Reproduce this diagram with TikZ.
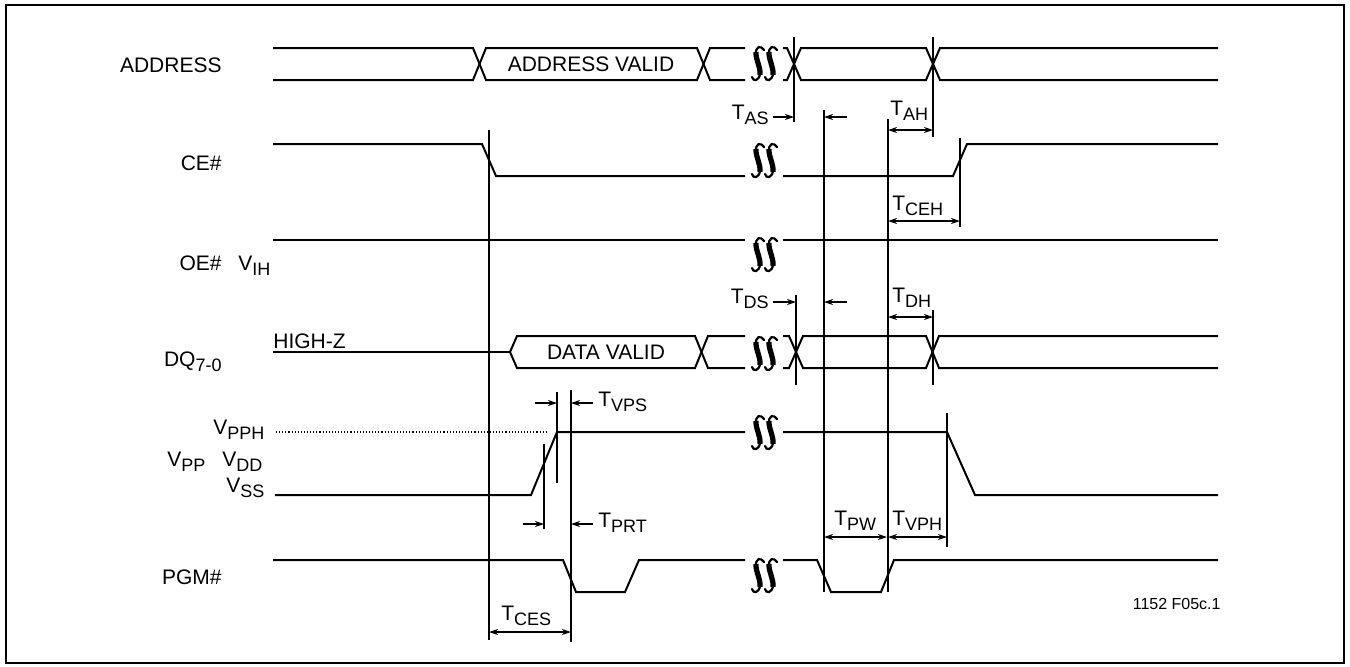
\documentclass[tikz,border=0pt]{standalone}
\usepackage{fontspec}
\setmainfont{Liberation Sans}
\usetikzlibrary{arrows.meta}
\newcommand{\Vs}[2]{#1\raisebox{-2.8pt}{\fontsize{9}{9}\selectfont #2}}
\tikzset{
  brk/.pic={
    \foreach \dx in {0,13}{
      \begin{scope}[shift={(\dx,0)}]
      \draw[line width=1.1pt, line cap=round]
        (12,4) .. controls (9,-1) and (3,0) .. (4,9)
        .. controls (5,17) and (9,21) .. (8,28)
        .. controls (7,35) and (1,36) .. (0,31);
      \draw[line width=2.6pt, line cap=butt]
        (3.9,6) .. controls (3.9,15) and (8.5,20) .. (8.1,29);
      \end{scope}
    }
  }
}
\begin{document}
\begin{tikzpicture}[x=0.5pt,y=-0.5pt,
  sig/.style={line width=1pt, line join=miter},
  thinl/.style={line width=0.55pt},
  lbl/.style={inner sep=0pt, font=\fontsize{10.5}{12}\selectfont},
  dim/.style={thinl, {Stealth[length=4.5pt,width=3pt]}-{Stealth[length=4.5pt,width=3pt]}},
  ar/.style={thinl, -{Stealth[length=4.5pt,width=3pt]}}
]
\useasboundingbox (0,0) rectangle (1350,666);
\draw[line width=1.2pt] (6,5) rectangle (1344,663);

% ---------- labels left ----------
\node[lbl, anchor=base east] (lADDR) at (222,72) {ADDRESS};
\node[lbl, anchor=base east] (lCE) at (222,170) {CE\#};
\node[lbl, anchor=base east] (lOE) at (222,270) {OE\#};
\node[lbl, anchor=base west] (lVIH) at (238,270) {\Vs{V}{IH}};
\node[lbl, anchor=base east] (lDQ) at (222,366) {\Vs{DQ}{7-0}};
\node[lbl, anchor=base west] (lHZ) at (273,348) {HIGH-Z};
\node[lbl, anchor=base west] (lVPPH) at (213,434) {\Vs{V}{PPH}};
\node[lbl, anchor=base west] (lVPP) at (167,466) {\Vs{V}{PP}};
\node[lbl, anchor=base west] (lVDD) at (222,466) {\Vs{V}{DD}};
\node[lbl, anchor=base west] (lVSS) at (226,492) {\Vs{V}{SS}};
\node[lbl, anchor=base east] (lPGM) at (222,584) {PGM\#};
\node[inner sep=0pt, anchor=base east, font=\fontsize{8}{9}\selectfont] (fig) at (1221,609) {1152 F05c.1};

% ---------- ADDRESS ----------
\draw[sig] (273,48)--(473,48)--(486,80)--(697,80)--(710,48)--(745,48);
\draw[sig] (273,80)--(473,80)--(486,48)--(697,48)--(710,80)--(745,80);
\draw[sig] (783,48)--(787,48)--(801,80)--(926,80)--(940,48)--(1218,48);
\draw[sig] (783,80)--(787,80)--(801,48)--(926,48)--(940,80)--(1218,80);
\node[lbl] (av) at (591,64) {ADDRESS VALID};
\pic at (752,46) {brk};

% ---------- CE# ----------
\draw[sig] (273,144)--(482,144)--(496,176)--(745,176);
\draw[sig] (783,176)--(953,176)--(967,144)--(1218,144);
\pic at (752,143) {brk};

% ---------- OE# ----------
\draw[sig] (273,240)--(745,240);
\draw[sig] (783,240)--(1218,240);
\pic at (752,237) {brk};

% ---------- DQ ----------
\draw[sig] (273,352)--(510,352);
\draw[sig] (510,352)--(517,336)--(695,336)--(708,368)--(745,368);
\draw[sig] (510,352)--(517,368)--(695,368)--(708,336)--(745,336);
\draw[sig] (783,336)--(789,336)--(803,368)--(926,368)--(939,336)--(1218,336);
\draw[sig] (783,368)--(789,368)--(803,336)--(926,336)--(939,368)--(1218,368);
\node[lbl] (dv) at (606,352) {DATA VALID};
\pic at (752,336) {brk};

% ---------- VPP ----------
\draw[thinl, densely dotted] (276,432)--(548,432);
\draw[sig] (275,495)--(531,495)--(557,432)--(745,432);
\draw[sig] (783,432)--(947,432)--(975,495)--(1218,495);
\pic at (752,415) {brk};

% ---------- PGM# ----------
\draw[sig] (273,560)--(563,560)--(576,592)--(625,592)--(639,560)--(745,560);
\draw[sig] (783,560)--(817,560)--(831,592)--(881,592)--(894,560)--(1218,560);
\pic at (752,558) {brk};

% ---------- reference verticals ----------
\draw[thinl] (489,130)--(489,640);
\draw[thinl] (794,37)--(794,122);
\draw[thinl] (824,110)--(824,592);
\draw[thinl] (888,119)--(888,592);
\draw[thinl] (933,37)--(933,137);
\draw[thinl] (960,138)--(960,227);
\draw[thinl] (796,295)--(796,385);
\draw[thinl] (933,310)--(933,385);
\draw[thinl] (544,444)--(544,529);
\draw[thinl] (557,392)--(557,483);
\draw[thinl] (571,390)--(571,642);
\draw[thinl] (947,413)--(947,547);

% ---------- timing arrows ----------
\draw[ar] (773,117)--(794,117);
\node[lbl, anchor=base east] (tas) at (769,119) {\Vs{T}{AS}};
\draw[ar] (847,117)--(824,117);
\draw[dim] (888,130)--(933,130);
\node[lbl, anchor=base west] (tah) at (890,115) {\Vs{T}{AH}};
\draw[dim] (888,221)--(960,221);
\node[lbl, anchor=base west] (tceh) at (892,210) {\Vs{T}{CEH}};

\draw[ar] (773,302)--(796,302);
\node[lbl, anchor=base east] (tds) at (769,303) {\Vs{T}{DS}};
\draw[ar] (847,302)--(824,302);
\draw[dim] (888,317)--(933,317);
\node[lbl, anchor=base west] (tdh) at (892,302) {\Vs{T}{DH}};

\draw[ar] (535,403)--(557,403);
\draw[ar] (593,403)--(571,403);
\node[lbl, anchor=base west] (tvps) at (598,406) {\Vs{T}{VPS}};
\draw[ar] (523,524)--(544,524);
\draw[ar] (593,524)--(571,524);
\node[lbl, anchor=base west] (tprt) at (598,527) {\Vs{T}{PRT}};

\draw[dim] (489,632)--(571,632);
\node[lbl, anchor=base west] (tces) at (501,620) {\Vs{T}{CES}};
\draw[dim] (824,537)--(887,537);
\node[lbl, anchor=base west] (tpw) at (834,525) {\Vs{T}{PW}};
\draw[dim] (888,537)--(947,537);
\node[lbl, anchor=base west] (tvph) at (892,525) {\Vs{T}{VPH}};
\end{tikzpicture}
\end{document}
